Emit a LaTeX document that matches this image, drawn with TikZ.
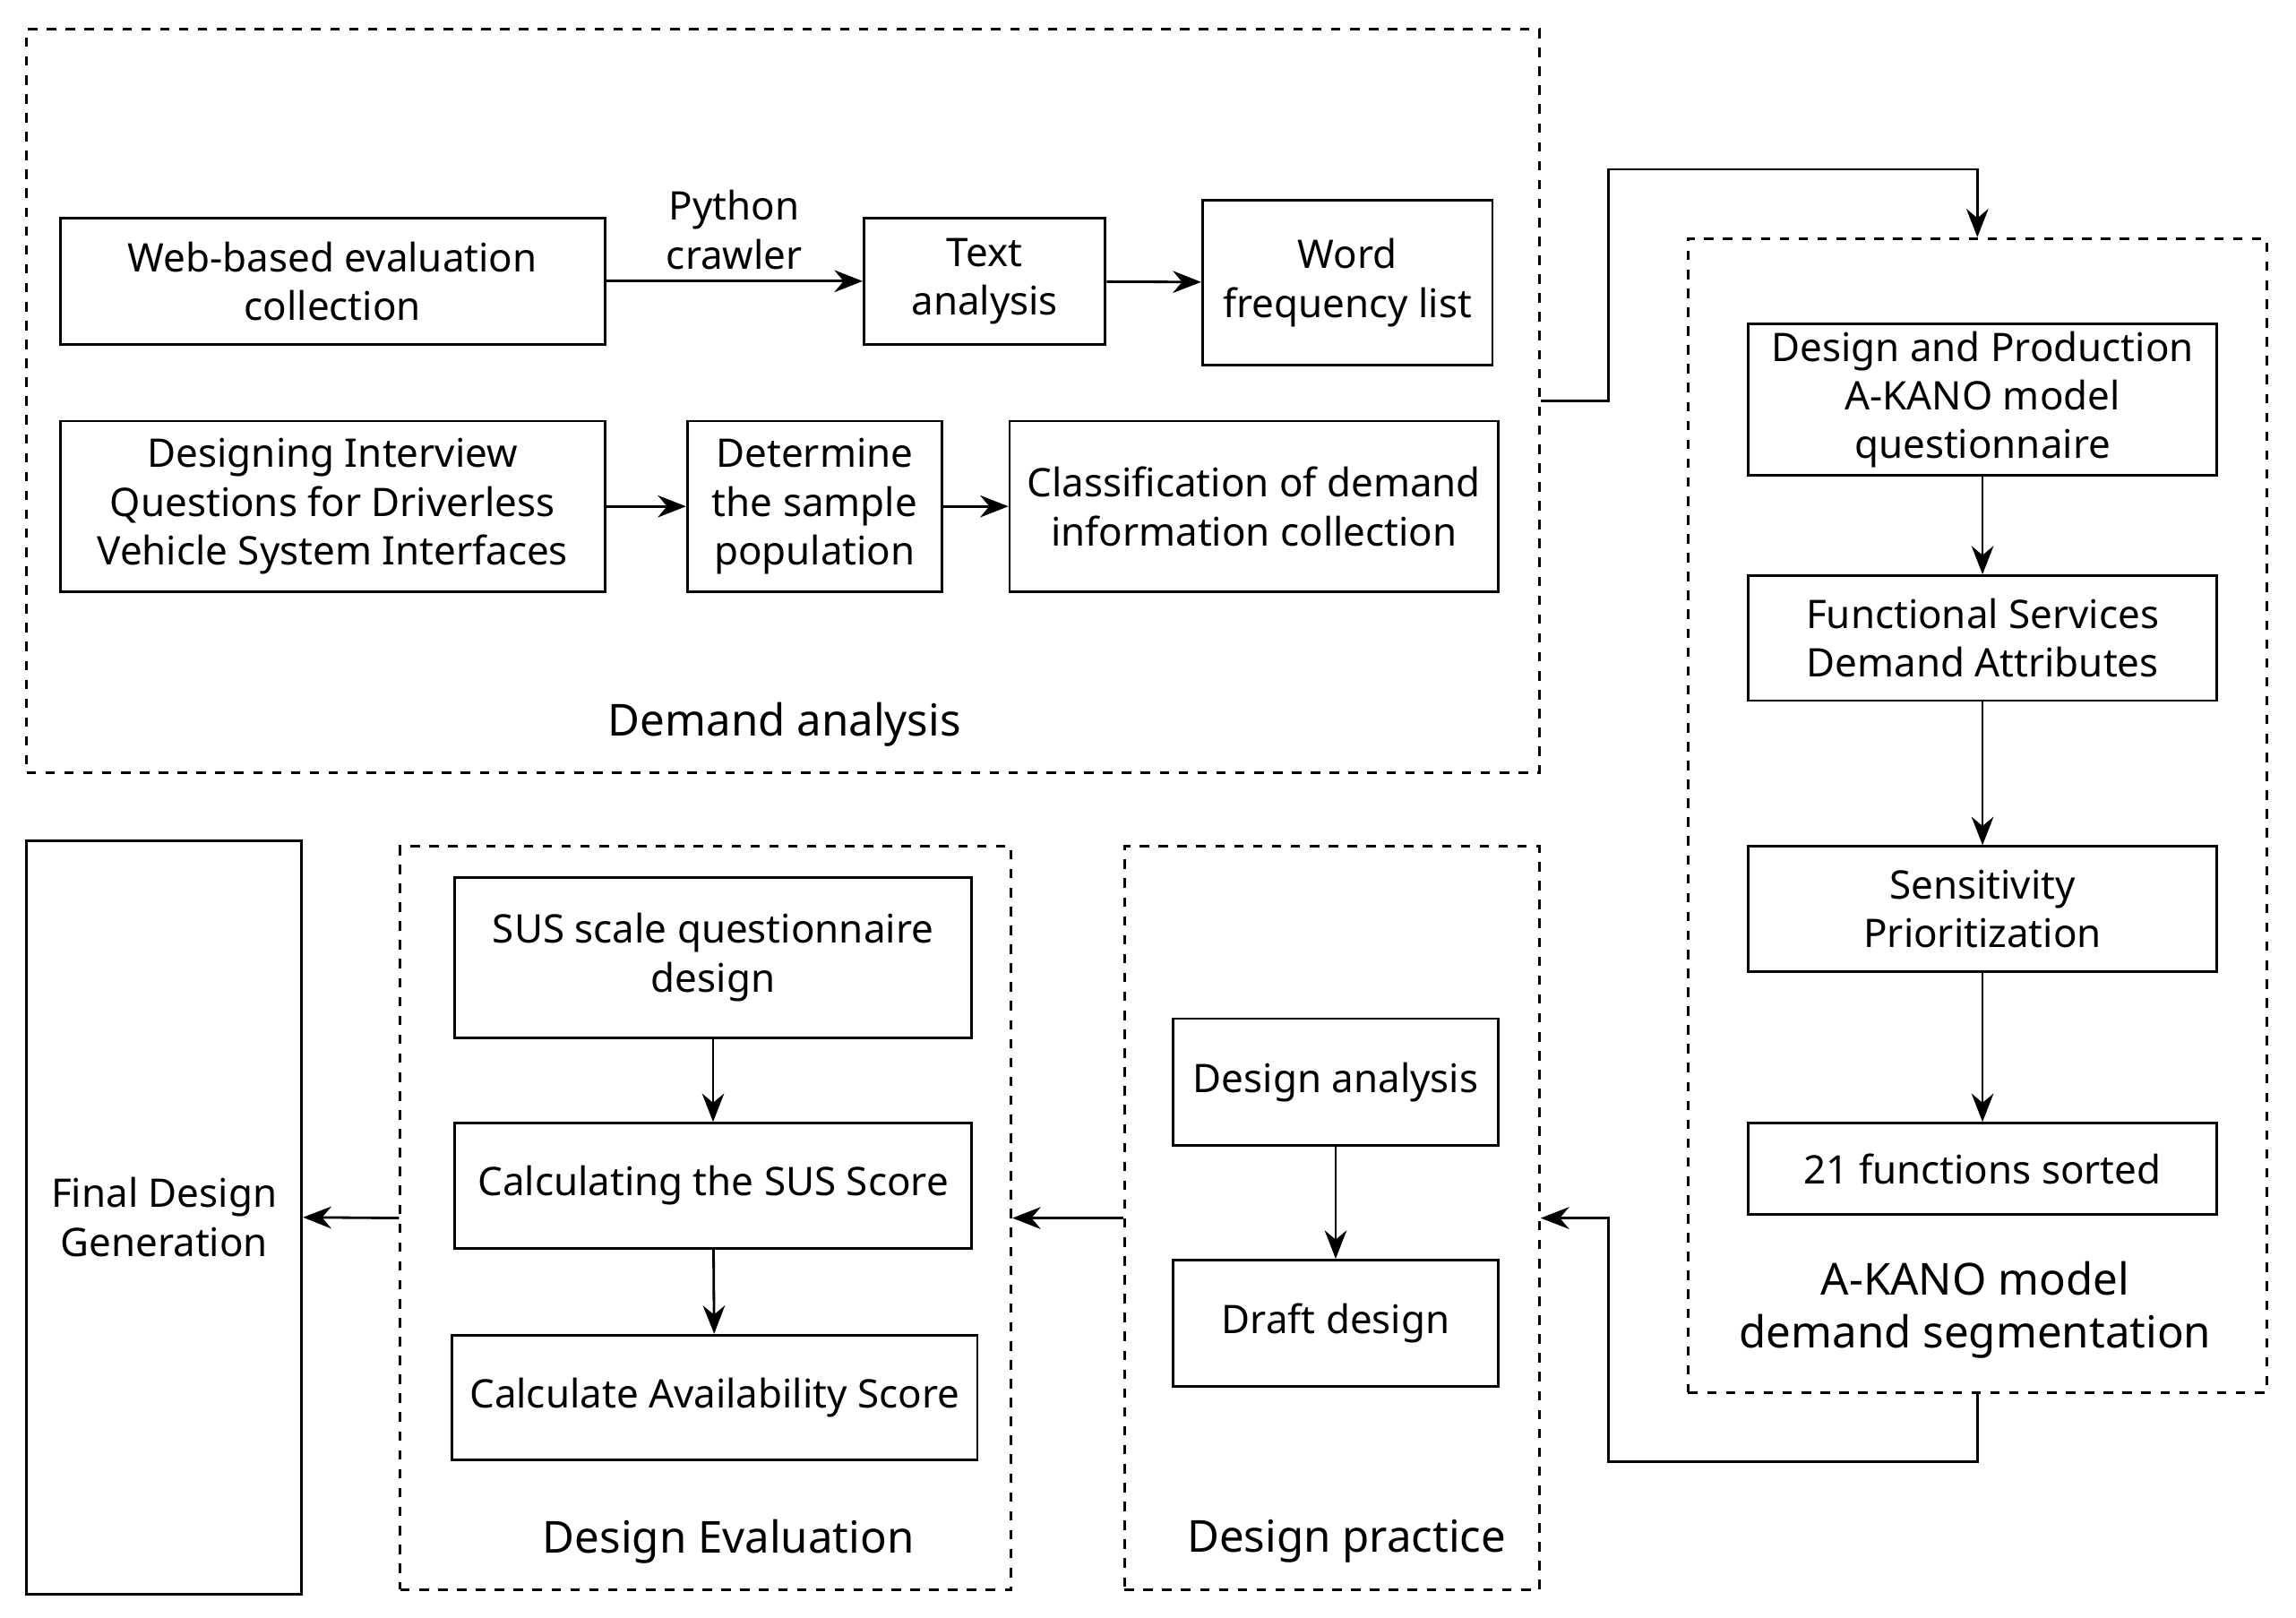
\documentclass[tikz,border=0pt]{standalone}
\usepackage{fontspec}
\setmainfont{Noto Sans}
\usetikzlibrary{arrows.meta,positioning,calc}
\newdimen\px
\px=0.01643cm
\begin{document}
\begin{tikzpicture}[
    x=0.01643cm, y=-0.01643cm,
    font=\fontsize{12.5}{15.5}\selectfont,
    box/.style={draw, thick, fill=white, align=center, inner sep=2pt},
    group/.style={draw, thick, dashed, inner sep=0pt},
    title/.style={font=\fontsize{14}{17}\selectfont\bfseries, align=center},
    link/.style={-{Stealth[length=9pt,width=7pt]}, thick},
]
\useasboundingbox (0,0) rectangle (1560,1099);

% GROUPS
\node[group, minimum width=1028\px, minimum height=505\px] at (532,272.5) (demand) {};
\node[group, minimum width=393\px, minimum height=784\px] at (1343.5,554) (kano) {};
\node[group, minimum width=282\px, minimum height=505\px] at (905,827.5) (practice) {};
\node[group, minimum width=415\px, minimum height=505\px] at (479.5,827.5) (eval) {};

% DEMAND ANALYSIS
\node[box, minimum width=370\px, minimum height=86\px] at (226,191) (web) {Web-based evaluation\\collection};
\node[box, minimum width=164\px, minimum height=86\px] at (669,191) (text) {Text\\analysis};
\node[box, minimum width=197\px, minimum height=112\px] at (915.5,192) (word) {Word\\frequency list};
\node[box, minimum width=370\px, minimum height=116\px] at (226,344) (interview) {Designing Interview\\Questions for Driverless\\Vehicle System Interfaces};
\node[box, minimum width=173\px, minimum height=116\px] at (553.5,344) (sample) {Determine\\the sample\\population};
\node[box, minimum width=332\px, minimum height=116\px] at (852,344) (classify) {Classification of demand\\information collection};
\node[title] at (533,492) (demandlabel) {Demand analysis};

% A-KANO
\node[box, minimum width=318\px, minimum height=103\px] at (1347,271.5) (question) {Design and Production\\A-KANO model\\questionnaire};
\node[box, minimum width=318\px, minimum height=85\px] at (1347,433.5) (attrib) {Functional Services\\Demand Attributes};
\node[box, minimum width=318\px, minimum height=85\px] at (1347,617.5) (sens) {Sensitivity\\Prioritization};
\node[box, minimum width=318\px, minimum height=62\px] at (1347,794) (sorted) {21 functions sorted};
\node[title] at (1342,890) (kanolabel) {A-KANO model\\demand segmentation};

% DESIGN PRACTICE
\node[box, minimum width=221\px, minimum height=86\px] at (907.5,735) (danalysis) {Design analysis};
\node[box, minimum width=221\px, minimum height=86\px] at (907.5,899) (draft) {Draft design};
\node[title] at (915,1047) (practicelabel) {Design practice};

% DESIGN EVALUATION
\node[box, minimum width=351\px, minimum height=109\px] at (484.5,650.5) (sus) {SUS scale questionnaire\\design};
\node[box, minimum width=351\px, minimum height=85\px] at (484.5,805.5) (susscore) {Calculating the SUS Score};
\node[box, minimum width=357\px, minimum height=85\px] at (485.5,949.5) (avail) {Calculate Availability Score};
\node[title] at (495,1047) (evallabel) {Design Evaluation};

% FINAL
\node[box, minimum width=187\px, minimum height=512\px] at (111.5,827) (final) {Final Design\\Generation};

% ARROWS
\draw[link] (web) -- node[above, align=center] {Python\\crawler} (text);
\draw[link] (text) -- (word);
\draw[link] (interview) -- (sample);
\draw[link] (sample) -- (classify);
\draw[link] (question) -- (attrib);
\draw[link] (attrib) -- (sens);
\draw[link] (sens) -- (sorted);
\draw[link] (danalysis) -- (draft);
\draw[link] (sus) -- (susscore);
\draw[link] (susscore) -- (avail);

\coordinate (k1) at (1093,115);
\coordinate (k2) at (1093,993);
\draw[link] (demand.east) -| (k1) -| (kano.north);
\draw[link] (kano.south) |- (k2) |- (practice.east);
\draw[link] (practice.west) -- (eval.east);
\draw[link] (eval.west) -- (final.east);
\end{tikzpicture}
\end{document}
